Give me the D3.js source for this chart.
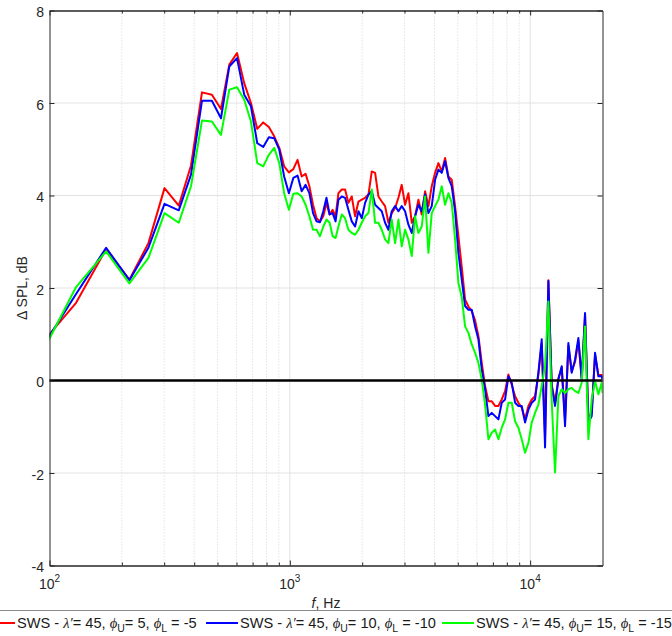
<!DOCTYPE html>
<html>
<head>
<meta charset="utf-8">
<script src="https://cdn.jsdelivr.net/npm/d3@7"></script>
<style>
  body { margin: 0; background: #fff; }
  svg { display: block; }
</style>
</head>
<body>
<svg id="chart" width="672" height="636"></svg>
<script>
// Frequency points (Hz): FFT bins at low frequency, then a log-spaced read-out up to 20 kHz
const freqHz = [
  86, 129, 172, 215, 258, 301, 345, 388, 431, 474, 517, 560, 603, 646, 689, 732, 775, 818,
  861, 904, 947, 991, 1034, 1077, 1120, 1163, 1206, 1249, 1292, 1335, 1378, 1421, 1464, 1507,
  1550, 1593,
  1645, 1698, 1753, 1810, 1869, 1930, 1992, 2057, 2124, 2193, 2264, 2337, 2413, 2491, 2572,
  2655, 2742, 2831, 2922, 3017, 3115, 3216, 3320, 3428, 3539, 3654, 3773, 3895, 4022, 4152,
  4287, 4426, 4569, 4718, 4871, 5029,
  5193, 5361, 5535, 5715, 5900, 6092, 6289, 6493, 6704, 6921, 7146, 7378, 7617, 7864, 8119,
  8383, 8655, 8935, 9225, 9524, 9833, 10152, 10481, 10821, 11172, 11535, 11909, 12295, 12694,
  13106, 13531, 13970, 14423, 14891, 15374, 15873, 16388, 16919, 17468, 18035, 18620, 19224,
  19847, 20000
];

// ΔSPL (dB), SWS with φU = 5, φL = -5
const splPhi5 = [
  0.60, 1.68, 2.84, 2.18, 2.97, 4.16, 3.78, 4.65, 6.23, 6.18, 5.87, 6.83, 7.08, 6.43, 6.00, 5.44,
  5.58, 5.48, 5.28, 5.03, 4.63, 4.50, 4.57, 4.77, 4.41, 4.47, 4.20, 3.80, 3.51, 3.44, 3.55, 3.84,
  3.59, 3.69, 3.55, 4.05,
  4.13, 4.13, 3.84, 3.98, 3.55, 3.87, 3.91, 3.95, 4.02, 4.52, 4.49, 3.98, 3.87, 3.77, 3.41, 3.62,
  3.73, 3.95, 4.23, 3.80, 4.05, 3.41, 3.55, 3.91, 3.59, 4.09, 3.77, 4.20, 4.49, 4.70, 4.52, 4.81,
  4.41, 4.34, 3.77, 3.12,
  2.45, 1.75, 1.60, 1.50, 1.30, 0.96, 0.38, -0.12, -0.45, -0.45, -0.55, -0.55, -0.41, -0.23, 0.13,
  -0.09, -0.34, -0.48, -0.59, -0.84, -0.55, -0.41, -0.34, 0.13, 0.80, -1.20, 2.17, -0.09, -0.48,
  0.05, 0.28, -0.85, 0.75, 0.20, 0.40, 0.85, 0.05, 1.42, -0.80, -0.70, 0.55, 0.12, 0.12, 0.05
];

// ΔSPL (dB), SWS with φU = 10, φL = -10
const splPhi10 = [
  0.43, 1.87, 2.87, 2.17, 2.87, 3.82, 3.68, 4.45, 6.05, 6.05, 5.67, 6.79, 6.97, 6.18, 5.93, 5.13,
  5.05, 5.26, 5.24, 4.99, 4.41, 4.05, 4.38, 4.43, 4.09, 4.23, 4.05, 3.62, 3.44, 3.42, 3.66, 3.95,
  3.59, 3.62, 3.44, 3.91,
  3.98, 3.95, 3.69, 3.44, 3.33, 3.66, 3.51, 3.84, 4.02, 4.09, 3.80, 3.73, 3.66, 3.41, 3.26, 3.66,
  3.77, 3.66, 3.77, 3.66, 3.37, 3.19, 3.55, 3.80, 3.66, 4.02, 3.62, 3.77, 4.34, 4.56, 4.49, 4.74,
  4.38, 4.20, 3.66, 2.76,
  2.18, 1.61, 1.53, 1.53, 1.17, 0.89, 0.24, -0.19, -0.77, -0.70, -0.77, -0.84, -0.48, -0.41, 0.09,
  -0.05, -0.48, -0.55, -0.55, -0.91, -0.63, -0.48, -0.41, 0.17, 0.89, -1.45, 2.15, -0.12, -0.55,
  0.02, 0.31, -0.99, 0.81, 0.17, 0.45, 0.92, 0.02, 1.46, -0.91, -0.77, 0.60, 0.09, 0.09, 0.02
];

// ΔSPL (dB), SWS with φU = 15, φL = -15
const splPhi15 = [
  0.25, 2.02, 2.79, 2.10, 2.65, 3.62, 3.41, 4.20, 5.62, 5.60, 5.31, 6.29, 6.34, 6.07, 5.60, 4.70,
  4.63, 4.88, 5.03, 4.70, 4.05, 3.69, 4.04, 4.05, 3.98, 3.80, 3.55, 3.26, 3.26, 3.12, 3.33, 3.48,
  3.41, 3.12, 3.08, 3.33,
  3.59, 3.51, 3.26, 3.19, 3.15, 3.26, 3.41, 3.55, 3.62, 4.13, 3.41, 3.41, 3.26, 3.05, 2.97, 3.48,
  2.97, 3.48, 2.90, 3.26, 3.05, 2.69, 3.55, 3.19, 3.33, 3.98, 2.76, 3.62, 3.77, 3.91, 4.20, 3.80,
  4.05, 3.84, 3.05, 2.11,
  1.80, 1.17, 1.03, 0.78, 0.60, 0.38, 0.02, -0.52, -1.27, -1.13, -1.06, -1.27, -1.02, -0.84, -0.48,
  -0.48, -0.88, -1.02, -1.27, -1.56, -1.35, -0.91, -0.70, -0.52, -0.12, 0.31, 1.71, -0.45, -1.99,
  -0.34, -0.19, -0.27, -0.19, -0.16, -0.23, -0.27, -0.05, 1.17, -1.27, -0.41, -0.01, -0.30, -0.05, -0.27
];

const seriesColors = ["#ff0000", "#0000ff", "#00ff00"];
const seriesPhi = [["5", "-5"], ["10", "-10"], ["15", "-15"]];
const lambdaValue = "45";

const yTicks = [-4, -2, 0, 2, 4, 6, 8];
const xMajor = [100, 1000, 10000];
const xMajorExp = ["2", "3", "4"];
const xMinor = [200, 300, 400, 500, 600, 700, 800, 900,
                2000, 3000, 4000, 5000, 6000, 7000, 8000, 9000];

const svg = d3.select("#chart");
const ink = "#262626";
const sans = "'Liberation Sans', Arial, Helvetica, sans-serif";
const serif = "'Liberation Serif', 'DejaVu Serif', 'Times New Roman', serif";

const box = { left: 49.5, right: 602.5, top: 10.5, bottom: 565.5 };
const x = d3.scaleLog().domain([100, 20000]).range([box.left, box.right]);
const y = d3.scaleLinear().domain([-4, 8]).range([box.bottom, box.top]);

svg.append("rect").attr("width", 672).attr("height", 636).attr("fill", "#fff");

// grid
const grid = svg.append("g");
grid.selectAll("line.minor").data(xMinor).join("line")
  .attr("x1", d => x(d)).attr("x2", d => x(d))
  .attr("y1", box.top).attr("y2", box.bottom)
  .attr("stroke", "#d4d4d4").attr("stroke-width", 1)
  .attr("stroke-dasharray", "1,2");
grid.selectAll("line.xmaj").data(xMajor.slice(1)).join("line")
  .attr("x1", d => x(d)).attr("x2", d => x(d))
  .attr("y1", box.top).attr("y2", box.bottom)
  .attr("stroke", "#e2e2e2").attr("stroke-width", 1);
grid.selectAll("line.ymaj").data(yTicks.slice(1, -1)).join("line")
  .attr("x1", box.left).attr("x2", box.right)
  .attr("y1", d => y(d)).attr("y2", d => y(d))
  .attr("stroke", "#e2e2e2").attr("stroke-width", 1);

// data lines
svg.append("clipPath").attr("id", "plotClip").append("rect")
  .attr("x", box.left).attr("y", box.top)
  .attr("width", box.right - box.left).attr("height", box.bottom - box.top);

const allSeries = [splPhi5, splPhi10, splPhi15];
const line = d3.line().x(d => x(d[0])).y(d => y(d[1]));
const plot = svg.append("g").attr("clip-path", "url(#plotClip)");
allSeries.forEach((vals, i) => {
  plot.append("path")
    .datum(freqHz.map((f, k) => [f, vals[k]]))
    .attr("fill", "none")
    .attr("stroke", seriesColors[i])
    .attr("stroke-width", 2)
    .attr("stroke-linejoin", "round")
    .attr("d", line);
});

// 0 dB reference
svg.append("line")
  .attr("x1", box.left).attr("x2", box.right)
  .attr("y1", y(0)).attr("y2", y(0))
  .attr("stroke", "#000").attr("stroke-width", 2.5);

// axes (ticks point inward)
const styleAxis = g => {
  g.select(".domain").attr("stroke", ink);
  g.selectAll(".tick line").attr("stroke", ink);
  g.selectAll("text").remove();
};
svg.append("g").attr("transform", `translate(${box.left},0)`)
  .call(d3.axisLeft(y).tickValues(yTicks).tickSize(-5).tickSizeOuter(0)).call(styleAxis);
svg.append("g").attr("transform", `translate(${box.right},0)`)
  .call(d3.axisRight(y).tickValues(yTicks).tickSize(-5).tickSizeOuter(0)).call(styleAxis);
svg.append("g").attr("transform", `translate(0,${box.bottom})`)
  .call(d3.axisBottom(x).tickValues(xMajor).tickSize(-5).tickSizeOuter(0)).call(styleAxis);
svg.append("g").attr("transform", `translate(0,${box.bottom})`)
  .call(d3.axisBottom(x).tickValues(xMinor).tickSize(-3).tickSizeOuter(0)).call(styleAxis);
svg.append("g").attr("transform", `translate(0,${box.top})`)
  .call(d3.axisTop(x).tickValues(xMajor).tickSize(-5).tickSizeOuter(0)).call(styleAxis);
svg.append("g").attr("transform", `translate(0,${box.top})`)
  .call(d3.axisTop(x).tickValues(xMinor).tickSize(-3).tickSizeOuter(0)).call(styleAxis);

// tick labels
svg.append("g").selectAll("text").data(yTicks).join("text")
  .attr("x", box.left - 5.5).attr("y", d => y(d) + 6.5)
  .attr("text-anchor", "end")
  .attr("font-family", sans).attr("font-size", 14).attr("fill", ink)
  .text(d => d);

const xl = svg.append("g").selectAll("text").data(xMajor).join("text")
  .attr("x", d => x(d)).attr("y", 589)
  .attr("text-anchor", "middle")
  .attr("font-family", sans).attr("font-size", 14).attr("fill", ink);
xl.append("tspan").text("10");
xl.append("tspan").attr("dy", -7).attr("font-size", 10).text((d, i) => xMajorExp[i]);

// axis titles
const xt = svg.append("text")
  .attr("x", (box.left + box.right) / 2).attr("y", 607.5)
  .attr("text-anchor", "middle")
  .attr("font-family", sans).attr("font-size", 14).attr("fill", ink);
xt.append("tspan").attr("font-style", "italic").text("f");
xt.append("tspan").text(", Hz");

svg.append("text")
  .attr("transform", `translate(27,${(box.top + box.bottom) / 2}) rotate(-90)`)
  .attr("text-anchor", "middle")
  .attr("font-family", sans).attr("font-size", 14).attr("fill", ink)
  .text("Δ SPL, dB");

// legend
const lg = svg.append("g");
lg.append("rect")
  .attr("x", -10).attr("y", 610.5).attr("width", 692).attr("height", 40)
  .attr("fill", "#fff").attr("stroke", "#8a8a8a").attr("stroke-width", 1);

const legendStart = [-17, 206, 442];
seriesColors.forEach((c, i) => {
  const x0 = legendStart[i];
  lg.append("line")
    .attr("x1", x0).attr("x2", x0 + 32)
    .attr("y1", 623).attr("y2", 623)
    .attr("stroke", c).attr("stroke-width", 2);
  const t = lg.append("text")
    .attr("x", x0 + 34).attr("y", 628)
    .attr("font-family", sans).attr("font-size", 14.6).attr("fill", "#1a1a1a");
  t.append("tspan").text("SWS - ");
  t.append("tspan").attr("font-family", serif).attr("font-style", "italic").text("λ′");
  t.append("tspan").text("= " + lambdaValue + ", ");
  t.append("tspan").attr("font-family", serif).attr("font-style", "italic").text("ϕ");
  t.append("tspan").attr("font-size", 10.5).attr("dy", 4).text("U");
  t.append("tspan").attr("dy", -4).text("= " + seriesPhi[i][0] + ", ");
  t.append("tspan").attr("font-family", serif).attr("font-style", "italic").text("ϕ");
  t.append("tspan").attr("font-size", 10.5).attr("dy", 4).text("L");
  t.append("tspan").attr("dy", -4).text(" = " + seriesPhi[i][1]);
});
</script>
</body>
</html>
